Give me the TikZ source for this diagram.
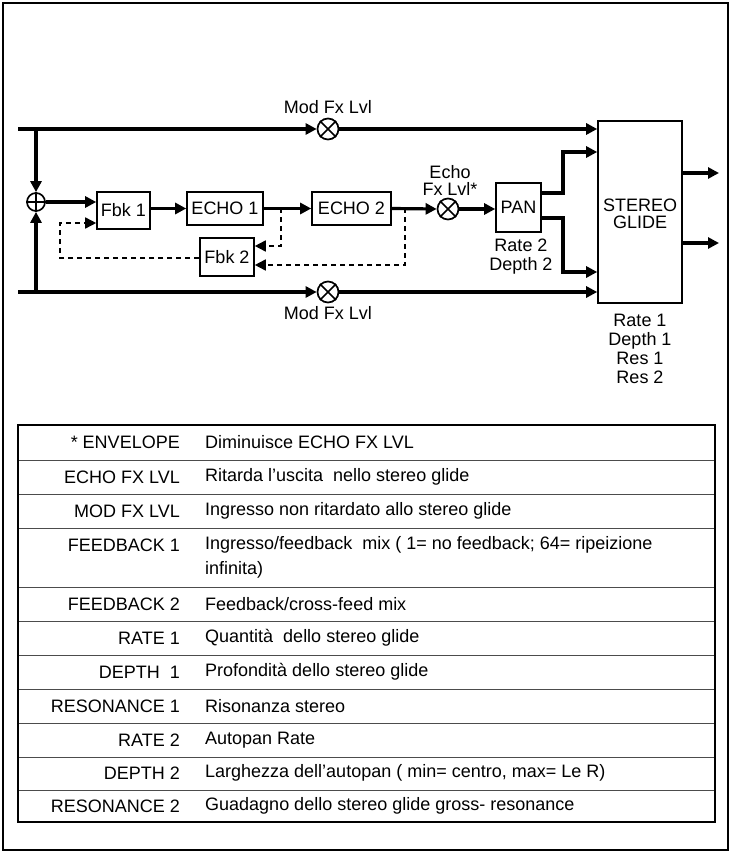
\documentclass[tikz,border=0pt]{standalone}
\usepackage{fontspec}
\setmainfont{Liberation Sans}
\usetikzlibrary{arrows.meta}
\begin{document}
\begin{tikzpicture}[x=1pt,y=-1pt,
  every node/.style={font=\fontsize{18}{19}\selectfont},
  sig/.style={line width=3.2pt,-{Triangle[length=11pt,width=11pt]}},
  dsh/.style={line width=1.6pt,dash pattern=on 5pt off 4pt},
  dsha/.style={dsh,-{Triangle[length=11pt,width=11pt]}},
  box/.style={draw,line width=1.6pt,minimum height=35pt,inner sep=2pt},
  circ/.style={draw,circle,line width=1.7pt,minimum size=21pt,inner sep=0pt},
  lbl/.style={align=center,inner sep=0pt},
  row/.style={draw=black!70,line width=1pt}]
\useasboundingbox (0,0) rectangle (731,853);
\draw[line width=1.2pt] (3,3) rectangle (728,850);
% nodes
\node[circ,minimum size=18pt] (plus) at (36,202) {};
\draw[line width=1.5pt] (plus.north)--(plus.south) (plus.west)--(plus.east);
\node[circ] (mt) at (328,129) {};
\node[circ] (mb) at (328,292) {};
\node[circ] (me) at (448,209) {};
\foreach \c in {mt,mb,me}{\draw[line width=1.5pt] (\c.north west)--(\c.south east) (\c.north east)--(\c.south west);}
\node[box,minimum width=53pt,minimum height=37pt] (fbk1) at (123.5,210.5) {Fbk 1};
\node[box,minimum width=76pt,minimum height=33pt] (e1) at (225,208.5) {ECHO 1};
\node[box,minimum width=79pt,minimum height=33pt] (e2) at (351.5,208.5) {ECHO 2};
\node[box,minimum width=54pt,minimum height=38pt] (fbk2) at (227,257) {Fbk 2};
\node[box,minimum width=45pt,minimum height=49pt] (pan) at (518.5,207.5) {PAN};
\node[box,minimum width=84pt,minimum height=182pt] (sg) at (640,212) {};
\node[lbl] at (640,214) {STEREO\\[-2pt]GLIDE};
\node[lbl] (mtl) at (328,107) {Mod Fx Lvl};
\node[lbl] (mbl) at (328,313) {Mod Fx Lvl};
\node[lbl] (mel) at (450,180) {Echo\\[-2pt]Fx Lvl*};
\node[lbl] (panl) at (521,257) {Rate 2\\[0pt]Depth 2};
\node[lbl] (sgl) at (640,349) {Rate 1\\[0pt]Depth 1\\[0pt]Res 1\\[0pt]Res 2};
\coordinate (tl) at (18,129); \coordinate (bl) at (18,292);
\coordinate (tj) at (36,129); \coordinate (bj) at (36,292);
% signal lines
\draw[sig] (tl)--(mt.west);
\draw[sig] (mt.east)--(sg.west |- mt);
\draw[sig] (bl)--(mb.west);
\draw[sig] (mb.east)--(sg.west |- mb);
\draw[sig] (tj)--(plus.north);
\draw[sig] (bj)--(plus.south);
\draw[sig] (plus.east)--(fbk1.west |- plus);
\draw[sig] (fbk1.east |- e1)--(e1.west);
\draw[sig] (e1.east)--(e2.west);
\draw[sig] (e2.east)--(me.west);
\draw[sig] (me.east)--(pan.west |- me);
\draw[sig] (pan.east |- 0,193) -| (563,152) -- (sg.west |- 0,152);
\draw[sig] (pan.east |- 0,218) -| (563,272) -- (sg.west |- 0,272);
\draw[sig] (sg.east |- 0,173) -- (719,173);
\draw[sig] (sg.east |- 0,243) -- (719,243);
% dashed feedback
\draw[dsha] (281,208) |- (fbk2.east |- 0,246);
\draw[dsha] (405,208) |- (fbk2.east |- 0,265);
\draw[dsha] (fbk2.west |- 0,258) -| (60,223) -- (fbk1.west |- 0,223);
% table
\foreach \y in {460,494,528,587,621,655,689,723,757,790}{\draw[row] (18,\y)--(715,\y);}
\draw[line width=1.8pt] (18,425) rectangle (715,822);
\foreach \y/\a/\b in {442/{* ENVELOPE}/{Diminuisce ECHO FX LVL},477/{ECHO FX LVL}/{Ritarda l’uscita\ \ nello stereo glide},511/{MOD FX LVL}/{Ingresso non ritardato allo stereo glide},604/{FEEDBACK 2}/{Feedback/cross-feed mix},638/{RATE 1}/{Quantità\ \ dello stereo glide},672/{DEPTH\ \ 1}/{Profondità dello stereo glide},706/{RESONANCE 1}/{Risonanza stereo},740/{RATE 2}/{Autopan Rate},773/{DEPTH 2}/{Larghezza dell’autopan ( min= centro, max= Le R)},806/{RESONANCE 2}/{Guadagno dello stereo glide gross- resonance}}{
  \node[anchor=east,inner sep=0pt] at (180,\y) {\a};
  \node[anchor=west,inner sep=0pt] at (205,\y) {\b};}
\node[anchor=east,inner sep=0pt] at (180,545) {FEEDBACK 1};
\node[anchor=west,inner sep=0pt] at (205,545) {Ingresso/feedback\ \ mix ( 1= no feedback; 64= ripeizione};
\node[anchor=west,inner sep=0pt] at (205,570) {infinita)};
\end{tikzpicture}
\end{document}
